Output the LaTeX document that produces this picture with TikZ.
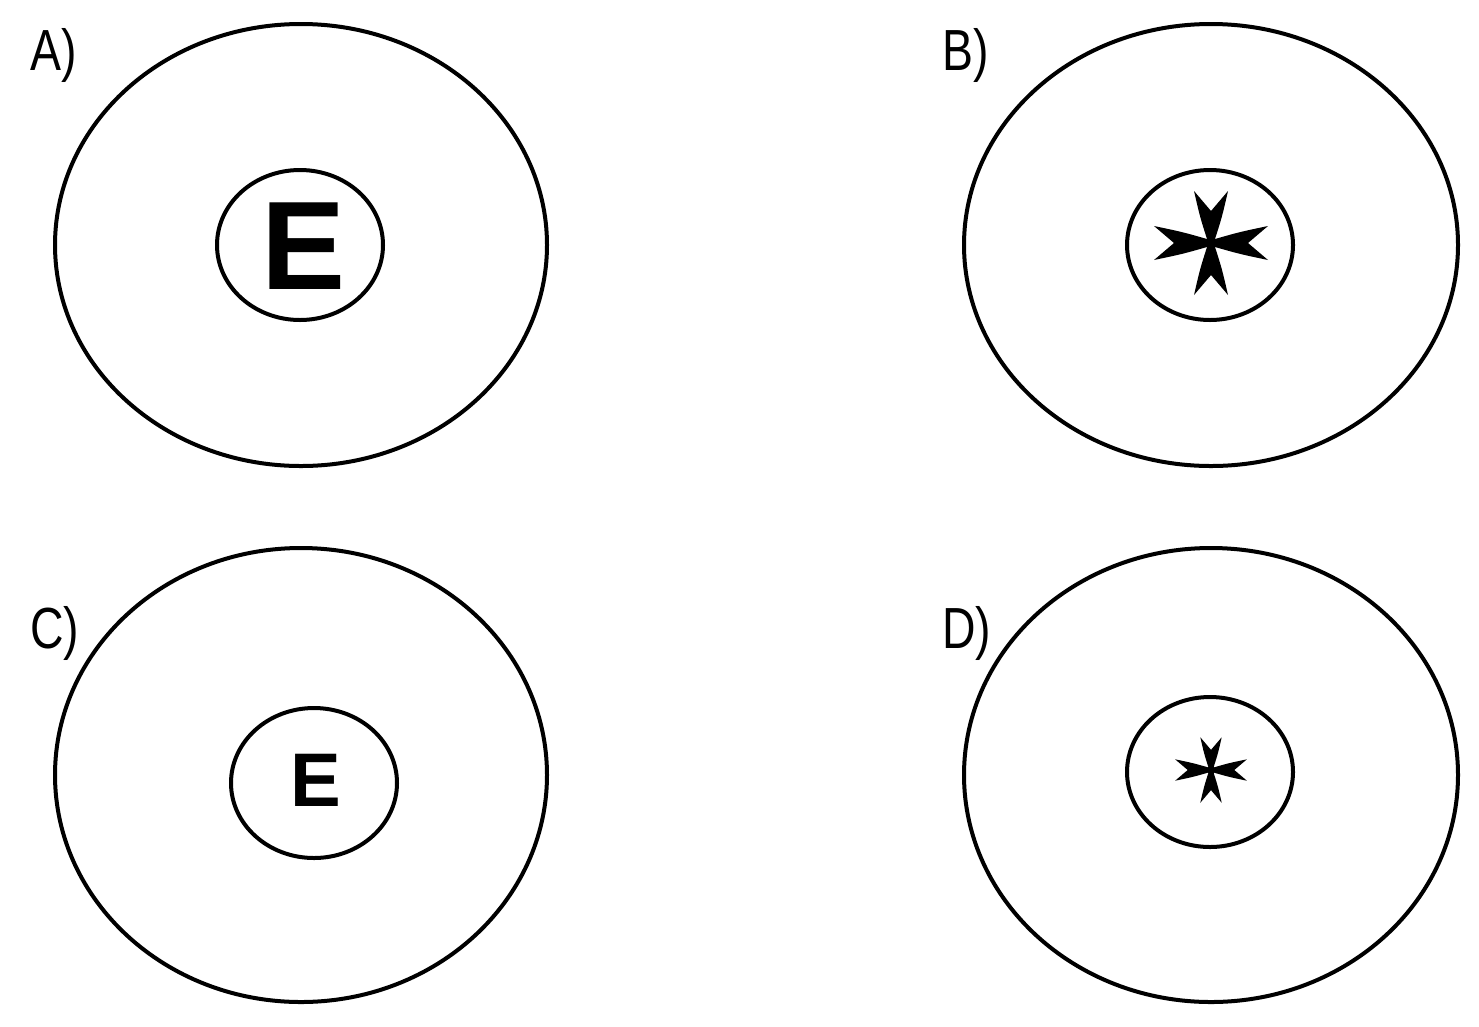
\documentclass[tikz,border=0pt]{standalone}
\usepackage{fontspec}
\setmainfont{Liberation Sans}
\newfontfamily\lblfont[FakeStretch=0.8]{Liberation Sans}
\usepackage{tikz}

\tikzset{
  ring/.style={line width=4pt},
  tag/.style={anchor=base west,inner sep=0pt,font=\lblfont\fontsize{58}{60}\selectfont},
  letter/.style={inner sep=0pt,font=\bfseries}
}

\begin{document}
\begin{tikzpicture}[x=1pt,y=-1pt]
 \useasboundingbox (0,0) rectangle (1479,1026);

 % A
 \draw[ring] (301,245) ellipse [x radius=246,y radius=221];
 \draw[ring] (300,245) ellipse [x radius=83,y radius=75];
 \node[letter,font=\bfseries\fontsize{126}{126}\selectfont] (EA) at (304,246) {E};
 \node[tag] (labA) at (30,70) {A)};

 % B
 \draw[ring] (1211,245) ellipse [x radius=247,y radius=221];
 \draw[ring] (1210,245) ellipse [x radius=83,y radius=75];
 \begin{scope}[shift={(1211,243)}]
 \fill (-4,-4) rectangle (4,4);
 \foreach \ang/\len in {0/57,90/52,180/57,270/52}
  \fill[rotate=\ang] (4,4) .. controls (\len/2,11) .. (\len,17) -- (\len-20,0)
   -- (\len,-17) .. controls (\len/2,-11) .. (4,-4) -- cycle;
 \end{scope}
 \node[tag] (labB) at (942,70) {B)};

 % C
 \draw[ring] (301,775) ellipse [x radius=246,y radius=227];
 \draw[ring] (314,783) ellipse [x radius=83,y radius=75];
 \node[letter,font=\bfseries\fontsize{76}{76}\selectfont] (EC) at (316,780) {E};
 \node[tag] (labC) at (30,648) {C)};

 % D
 \draw[ring] (1211,775) ellipse [x radius=247,y radius=227];
 \draw[ring] (1210,772) ellipse [x radius=83,y radius=75];
 \begin{scope}[shift={(1211,770)},scale=0.63]
 \fill (-4,-4) rectangle (4,4);
 \foreach \ang/\len in {0/57,90/52,180/57,270/52}
  \fill[rotate=\ang] (4,4) .. controls (\len/2,11) .. (\len,17) -- (\len-20,0)
   -- (\len,-17) .. controls (\len/2,-11) .. (4,-4) -- cycle;
 \end{scope}
 \node[tag] (labD) at (942,648) {D)};

\end{tikzpicture}
\end{document}
